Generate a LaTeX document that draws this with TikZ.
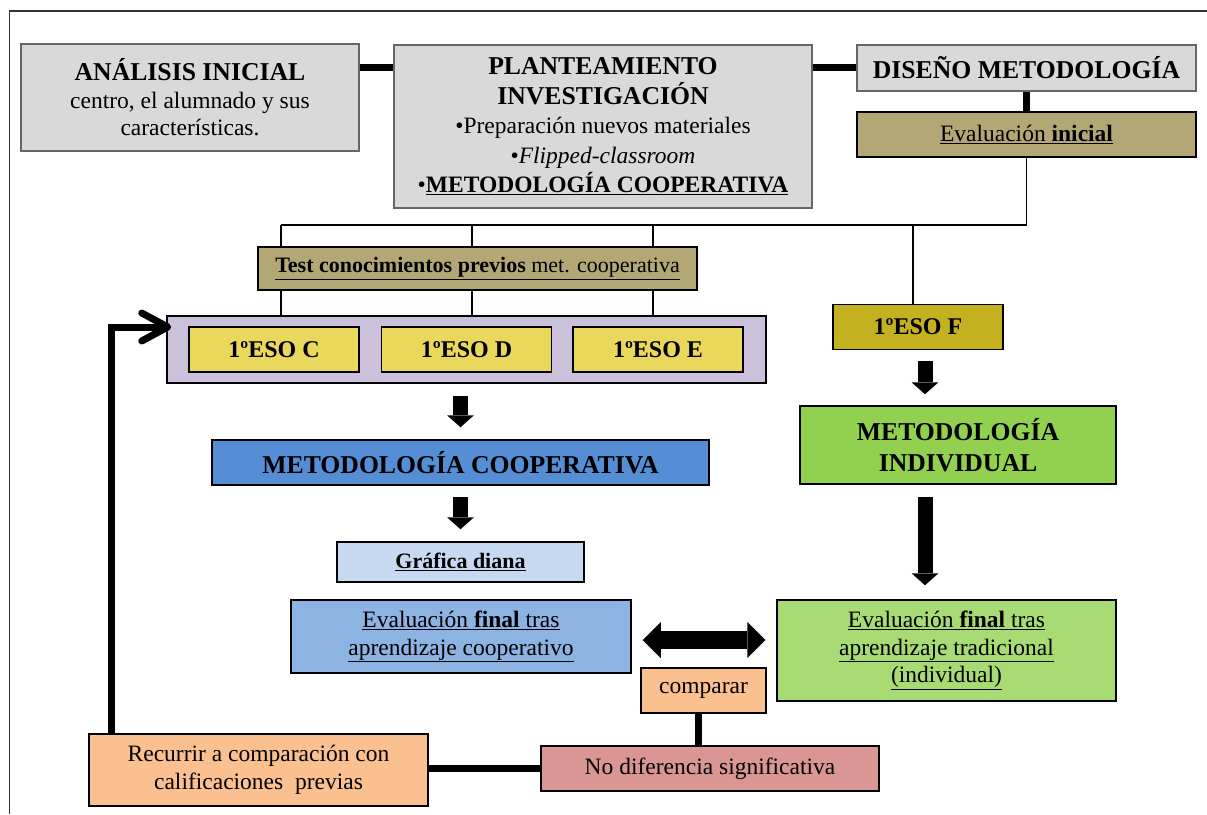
\documentclass[tikz,border=0pt]{standalone}
\usepackage{fontspec}
\setmainfont{Liberation Serif}
\usetikzlibrary{
    arrows.meta,
    calc,
    positioning,
}
\definecolor{boxgrey}{HTML}{D9D9D9}
\definecolor{khaki}{HTML}{B3A775}
\definecolor{lilac}{HTML}{CCC1DA}
\definecolor{grpyellow}{HTML}{E9D85C}
\definecolor{goldF}{HTML}{C4B11F}
\definecolor{indgreen}{HTML}{92D050}
\definecolor{tradgreen}{HTML}{A9DB74}
\definecolor{coopblue}{HTML}{558ED5}
\definecolor{dianablue}{HTML}{C6D9F1}
\definecolor{evcblue}{HTML}{8DB3E2}
\definecolor{peach}{HTML}{FAC090}
\definecolor{rose}{HTML}{D99694}
\newcommand{\headtxt}[1]{{\fontsize{25.7}{29}\selectfont\textbf{#1}}}

\begin{document}
\begin{tikzpicture}[x=1pt, y=-1pt,
        panel/.style={rectangle, draw=black, line width=1.5pt, align=center, inner sep=3pt, font=\fontsize{23.5}{27.5}\selectfont},
        greypanel/.style={panel, draw=black!60, line width=1.2pt, fill=boxgrey},
        groupbox/.style={panel, fill=grpyellow, minimum width=170pt, minimum height=45pt, font=\fontsize{24}{27}\selectfont},
        thinline/.style={line width=1.6pt},
        thickline/.style={line width=7pt},
        blockarrow/.style={line width=15pt, -{Triangle[length=12pt, width=27pt, line width=0pt]}},
        bothways/.style={line width=18pt, {Triangle[length=18pt, width=36pt, line width=0pt]}-{Triangle[length=18pt, width=36pt, line width=0pt]}}
        ]
        \useasboundingbox (0,0) rectangle (1207,814);
        \draw[black!80, line width=1.2pt] (1207,11) -- (9.5,11) -- (9.5,814);

        \node[greypanel, minimum width=338pt, minimum height=107pt] (ana)  at (190,97.5)
            {\headtxt{ANÁLISIS INICIAL}\\centro, el alumnado y sus\\características.};
        \node[greypanel, minimum width=418pt, minimum height=163pt, font=\fontsize{23.5}{29.5}\selectfont] (plan) at (603,126.5)
            {\headtxt{PLANTEAMIENTO}\\\headtxt{INVESTIGACIÓN}\\\textbullet Preparación nuevos materiales\\\textbullet\textit{Flipped-classroom}\\\textbullet\underline{\textbf{METODOLOGÍA COOPERATIVA}}};
        \node[greypanel, minimum width=339pt, minimum height=46pt]  (dis)  at (1026.5,68) {\headtxt{DISEÑO METODOLOGÍA}};
        \node[panel, fill=khaki, minimum width=339pt, minimum height=45pt] (evi) at (1026.5,134.5) {\underline{Evaluación \textbf{inicial}}};
        \node[panel, fill=khaki, minimum width=439pt, minimum height=43pt, font=\fontsize{22}{26}\selectfont] (test) at (477.5,268.5)
            {\underline{\textbf{Test conocimientos previos} met. cooperativa}};
        \node[panel, fill=lilac, minimum width=599pt, minimum height=67pt] (lav) at (466.5,349.5) {};
        \node[groupbox]              (escC) at (274,349.5)   {\textbf{1ºESO C}};
        \node[groupbox]              (escD) at (466.5,349.5) {\textbf{1ºESO D}};
        \node[groupbox]              (escE) at (658,349.5)   {\textbf{1ºESO E}};
        \node[groupbox, fill=goldF]  (escF) at (918,327)     {\textbf{1ºESO F}};
        \node[panel, fill=indgreen, minimum width=316pt, minimum height=78pt, font=\fontsize{25.7}{31.5}\selectfont] (ind) at (958,445)
            {\textbf{METODOLOGÍA}\\\textbf{INDIVIDUAL}};
        \node[panel, fill=coopblue, minimum width=497pt, minimum height=45pt] (coop) at (460.5,462.5)
            {\headtxt{METODOLOGÍA COOPERATIVA}};
        \node[panel, fill=dianablue, minimum width=247pt, minimum height=40pt, font=\fontsize{22}{26}\selectfont] (gra) at (460.5,562)
            {\underline{\textbf{Gráfica diana}}};
        \node[panel, fill=evcblue, minimum width=340pt, minimum height=73pt] (evc) at (461,636.5)
            {\underline{Evaluación \textbf{final} tras}\\\underline{aprendizaje cooperativo}};
        \node[panel, fill=tradgreen, minimum width=339pt, minimum height=101pt] (trad) at (946.5,650.5)
            {\underline{Evaluación \textbf{final} tras}\\\underline{aprendizaje tradicional}\\\underline{(individual)}};
        \node[panel, fill=peach, minimum width=125pt, minimum height=45pt]  (comp)  at (703.5,690.5) {comparar};
        \node[panel, fill=rose, minimum width=338pt, minimum height=45pt]   (nodif) at (710,768.5)   {No diferencia significativa};
        \node[panel, fill=peach, minimum width=339pt, minimum height=72pt]  (recu)  at (258.5,770)
            {Recurrir a comparación con\\calificaciones\ \ previas};

        \coordinate (topbar) at (0,67);
        \coordinate (tapC) at (281,225);
        \coordinate (tapD) at (472,225);
        \coordinate (tapE) at (653,225);
        \coordinate (tapF) at (913,225);
        \coordinate (loopin) at ([xshift=5pt, yshift=22.5pt]lav.west);

        \draw[thickline] (ana.east |- topbar) -- (plan.west |- topbar);
        \draw[thickline] (plan.east |- topbar) -- (dis.west |- topbar);
        \draw[thickline] (dis.south) -- (evi.north);
        \draw[thinline] (evi.south) |- (tapC);
        \draw[thinline] (tapF) -- (tapF |- escF.north);
        \foreach \t in {tapC,tapD,tapE} {
            \draw[thinline] (\t) -- (\t |- test.north);
            \draw[thinline] (\t |- test.south) -- (\t |- lav.north);
        }
        \draw[blockarrow, shorten <=12pt, shorten >=12pt] (coop.north |- lav.south) -- (coop.north);
        \draw[blockarrow, shorten <=11pt, shorten >=12pt] (coop.south) -- (gra.north);
        \draw[blockarrow, shorten <=11pt, shorten >=11pt] ([xshift=7pt]escF.south) -- ([xshift=7pt]escF.south |- ind.north);
        \draw[blockarrow, shorten <=12pt, shorten >=14pt] ([xshift=-33pt]ind.south) -- ([xshift=-33pt]ind.south |- trad.north);
        \draw[bothways, shorten <=11pt, shorten >=11pt] ([yshift=-3.5pt]evc.east) -- ([yshift=-3.5pt]evc.east -| trad.west);
        \draw[thickline] ([xshift=-5.5pt]comp.south) -- ([xshift=-5.5pt]comp.south |- nodif.north);
        \draw[thickline] (nodif.west) -- (nodif.west -| recu.east);
        \draw[thickline, -{Straight Barb[length=26pt, width=28pt, round]}] ([xshift=-147.5pt]recu.north) |- (loopin);
    \end{tikzpicture}
\end{document}
